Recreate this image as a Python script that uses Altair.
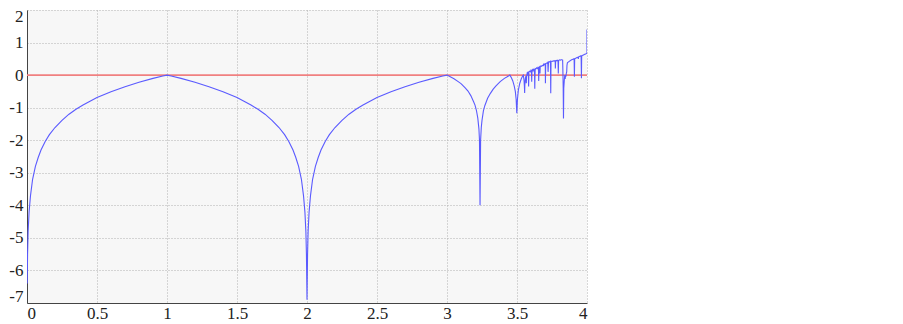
import altair as alt
import pandas as pd

# --- data ---
r_smooth = [
    0.0015, 0.004, 0.008, 0.015, 0.025, 0.04, 0.06, 0.08, 0.1, 0.13, 0.16, 0.2, 0.25, 0.3, 0.35, 0.4,
    0.45, 0.5, 0.6, 0.7, 0.8, 0.9, 0.97, 1.0,
    1.03, 1.1, 1.2, 1.3, 1.4, 1.5, 1.55, 1.6, 1.65, 1.7, 1.75, 1.8, 1.84, 1.87, 1.9, 1.92, 1.94,
    1.96, 1.975, 1.985, 1.992, 1.996, 2.0, 2.004, 2.008, 2.015, 2.025, 2.04, 2.06, 2.08, 2.1, 2.13,
    2.16, 2.2, 2.25, 2.3, 2.35, 2.4, 2.45, 2.5, 2.6, 2.7, 2.8, 2.9, 2.97, 3.0,
    3.02, 3.05, 3.08, 3.1, 3.13, 3.15, 3.17, 3.19, 3.2, 3.21, 3.22, 3.228, 3.232, 3.236, 3.24,
    3.245, 3.25, 3.26, 3.27, 3.29, 3.31, 3.33, 3.35, 3.38, 3.41, 3.43, 3.449,
    3.46, 3.47, 3.48, 3.488, 3.494, 3.4986, 3.503, 3.51, 3.52, 3.53, 3.54, 3.545, 3.55, 3.553,
    3.5546, 3.556, 3.56, 3.564, 3.566, 3.5666, 3.568, 3.57,
]
lyap_smooth = [
    -6.4, -5.5, -4.8, -4.2, -3.7, -3.2, -2.8, -2.53, -2.3, -2.04, -1.83, -1.61, -1.39, -1.2, -1.05, -0.92,
    -0.8, -0.69, -0.51, -0.36, -0.22, -0.1, -0.03, 0.0,
    -0.03, -0.1, -0.22, -0.36, -0.51, -0.69, -0.8, -0.92, -1.05, -1.2, -1.39, -1.61, -1.83, -2.04, -2.3, -2.53, -2.8,
    -3.2, -3.7, -4.2, -4.8, -5.5, -6.9, -5.5, -4.8, -4.2, -3.7, -3.2, -2.8, -2.53, -2.3, -2.04,
    -1.83, -1.61, -1.39, -1.2, -1.05, -0.92, -0.8, -0.69, -0.51, -0.36, -0.22, -0.1, -0.03, 0.0,
    -0.045, -0.11, -0.2, -0.26, -0.39, -0.49, -0.63, -0.82, -0.92, -1.08, -1.32, -1.65, -2.0, -4.0, -2.0,
    -1.6, -1.39, -1.1, -0.94, -0.71, -0.56, -0.43, -0.33, -0.2, -0.1, -0.05, 0.0,
    -0.08, -0.18, -0.33, -0.5, -0.75, -1.17, -0.75, -0.45, -0.25, -0.12, -0.03, 0.0, -0.15, -0.35,
    -0.55, -0.3, -0.1, -0.02, -0.1, -0.25, -0.05, 0.0,
]
r_chaos = [
    3.573, 3.576, 3.58, 3.581, 3.583, 3.585, 3.59, 3.595, 3.6, 3.603, 3.605, 3.607, 3.612, 3.615,
    3.62, 3.625, 3.627, 3.628, 3.63, 3.635, 3.64, 3.645, 3.65, 3.653, 3.655, 3.657, 3.662, 3.664,
    3.666, 3.67, 3.675, 3.68, 3.685, 3.69, 3.692, 3.695, 3.7, 3.702, 3.703, 3.705, 3.71, 3.715,
    3.72, 3.722, 3.725, 3.73, 3.735, 3.739, 3.741, 3.743, 3.75, 3.755, 3.76, 3.765, 3.77, 3.773,
    3.774, 3.776, 3.78, 3.785, 3.79, 3.793, 3.795, 3.797, 3.8, 3.805, 3.81, 3.815, 3.82, 3.826,
    3.8284, 3.83, 3.832, 3.834, 3.838, 3.8415, 3.844, 3.847, 3.849, 3.852, 3.855, 3.857, 3.86,
    3.865, 3.87, 3.875, 3.88, 3.885, 3.89, 3.895, 3.9, 3.905, 3.908, 3.91, 3.912, 3.915, 3.92,
    3.925, 3.93, 3.935, 3.938, 3.94, 3.945, 3.95, 3.955, 3.958, 3.9603, 3.962, 3.965, 3.97, 3.975,
    3.98, 3.985, 3.99, 3.995, 4.0, 4.0,
]
lyap_chaos = [
    0.06, 0.03, 0.1, 0.08, -0.35, 0.1, 0.12, 0.1, 0.15, 0.14, -0.2, 0.15, 0.17, 0.13,
    0.18, 0.16, -0.42, -0.1, 0.2, 0.19, 0.22, 0.2, 0.24, 0.23, -0.18, 0.24, 0.26, 0.05,
    0.27, 0.28, 0.27, 0.3, 0.29, 0.33, 0.31, 0.33, 0.35, 0.34, -0.25, 0.35, 0.37, 0.36,
    0.39, 0.1, 0.39, 0.41, 0.4, 0.42, -0.56, 0.41, 0.43, 0.42, 0.44, 0.43, 0.44, 0.42,
    0.2, 0.44, 0.45, 0.44, 0.46, 0.45, 0.05, 0.45, 0.46, 0.47, 0.46, 0.47, 0.47, 0.46,
    0.0, -0.4, -1.33, -0.4, -0.15, 0.0, -0.12, 0.0, -0.05, 0.05, 0.1, 0.3, 0.38,
    0.4, 0.41, 0.43, 0.44, 0.46, 0.47, 0.48, 0.49, 0.5, 0.5, -0.05, 0.5, 0.51, 0.52,
    0.53, 0.54, 0.55, 0.5, 0.56, 0.57, 0.58, 0.59, 0.59, -0.1, 0.58, 0.6, 0.61, 0.62,
    0.63, 0.64, 0.65, 0.66, 0.67, 1.4,
]

r_vals = r_smooth + r_chaos
lyap_vals = lyap_smooth + lyap_chaos

zero_x = [0, 4]
zero_y = [0, 0]

x_ticks = [0, 0.5, 1, 1.5, 2, 2.5, 3, 3.5, 4]
y_ticks = [2, 1, 0, -1, -2, -3, -4, -5, -6, -7]

df = pd.DataFrame({"r": r_vals, "lyap": lyap_vals, "i": list(range(len(r_vals)))})
df_zero = pd.DataFrame({"r": zero_x, "lyap": zero_y})

x_enc = alt.X(
    "r:Q",
    scale=alt.Scale(domain=[0, 4], nice=False, zero=False),
    axis=alt.Axis(values=x_ticks, title=None, grid=True, labelExpr="'' + datum.value"),
)
y_enc = alt.Y(
    "lyap:Q",
    scale=alt.Scale(domain=[-7, 2], nice=False, zero=False, clamp=True),
    axis=alt.Axis(
        values=y_ticks, title=None, grid=True, labelExpr="'' + datum.value",
        labelFlush=True, labelFlushOffset=2,
    ),
)

zero_line = alt.Chart(df_zero).mark_line(color="#f08080", strokeWidth=1.6).encode(x=x_enc, y=y_enc)

curve = alt.Chart(df).mark_line(color="#5a5aff", strokeWidth=1.1, clip=True).encode(
    x=x_enc, y=y_enc, order=alt.Order("i:Q")
)

chart = (
    alt.layer(zero_line, curve)
    .properties(
        width=560,
        height=293,
        autosize=alt.AutoSizeParams(type="none"),
        padding={"left": 19, "top": 2, "right": 10, "bottom": 22},
        background="white",
    )
    .configure_view(fill="#f7f7f7", stroke=None)
    .configure_axis(
        gridColor="#b0b0b0",
        gridDash=[1, 2],
        gridWidth=1,
        domainColor="#444444",
        domainWidth=1,
        ticks=False,
        labelFont="Liberation Serif",
        labelFontSize=17,
        labelColor="#222222",
        labelPadding=2,
    )
    .configure_axisY(labelPadding=4)
)

chart.save("out.html", embed_options={"renderer": "svg", "actions": False})
